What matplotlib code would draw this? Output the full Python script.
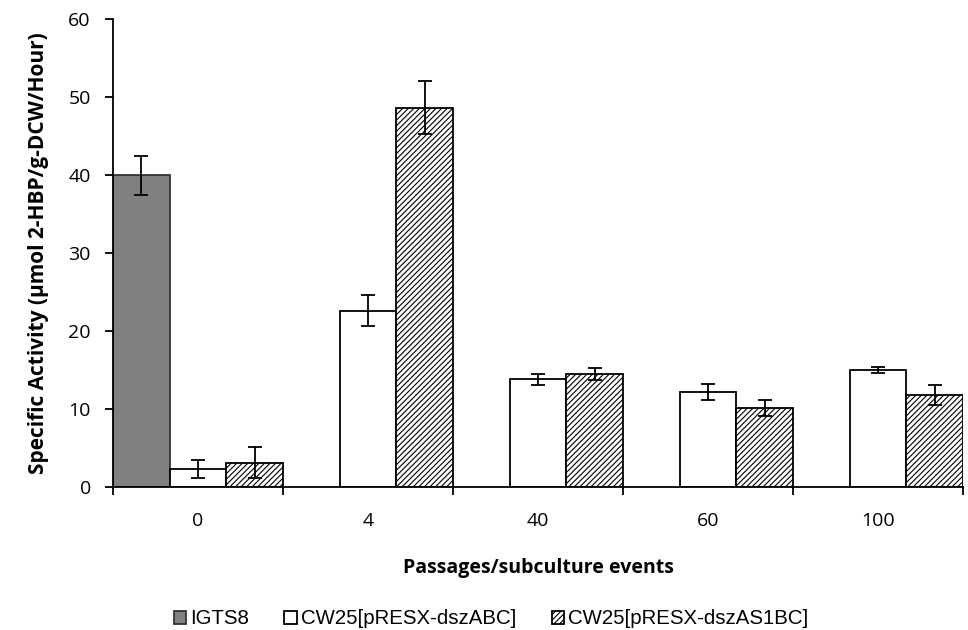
import numpy as np
import matplotlib.pyplot as plt
from matplotlib.ticker import FixedLocator

plt.rcParams["hatch.linewidth"] = 0.8

passages = ["0", "4", "40", "60", "100"]
series_names = ["IGTS8", "CW25[pRESX-dszABC]", "CW25[pRESX-dszAS1BC]"]
igts8 = [40.0, np.nan, np.nan, np.nan, np.nan]
igts8_err = [2.5, 0, 0, 0, 0]
abc = [2.3, 22.6, 13.8, 12.2, 15.0]
abc_err = [1.2, 2.0, 0.7, 1.0, 0.35]
as1bc = [3.1, 48.6, 14.5, 10.1, 11.8]
as1bc_err = [2.0, 3.4, 0.8, 1.0, 1.3]

fig = plt.figure(figsize=(9.68, 6.3), dpi=100)
ax = fig.add_axes([113 / 968, 1 - 487 / 630, 850 / 968, 468 / 630])

x = np.arange(len(passages))
w = 1 / 3
err_kw = dict(ecolor="black", elinewidth=1.3, capsize=5, capthick=1.3)

ax.bar(x - w, igts8, w, yerr=igts8_err, color="#7f8180", edgecolor="#333333",
       linewidth=1.3, label=series_names[0], error_kw=err_kw)
ax.bar(x, abc, w, yerr=abc_err, color="white", edgecolor="black",
       linewidth=1.3, label=series_names[1], error_kw=err_kw)
ax.bar(x + w, as1bc, w, yerr=as1bc_err, color="white", edgecolor="black",
       hatch="//////", linewidth=1.3, label=series_names[2], error_kw=err_kw)

ax.set_xlim(-0.5, len(passages) - 0.5)
ax.set_ylim(0, 60)
ax.set_yticks(range(0, 61, 10))
ax.set_xticks(x)
ax.set_xticklabels(passages)
ax.xaxis.set_minor_locator(FixedLocator(np.arange(-0.5, len(passages), 1)))
ax.tick_params(axis="x", which="major", length=0, pad=18, labelsize=14)
ax.tick_params(axis="x", which="minor", length=6, width=1.3, direction="out")
ax.tick_params(axis="y", length=6, width=1.3, direction="out", labelsize=14, pad=10)
for lbl in ax.get_xticklabels() + ax.get_yticklabels():
    lbl.set_family("Open Sans")

for s in ["top", "right"]:
    ax.spines[s].set_visible(False)
for s in ["left", "bottom"]:
    ax.spines[s].set_linewidth(1.3)

ax.set_ylabel("Specific Activity (µmol 2-HBP/g-DCW/Hour)", fontsize=15,
              fontweight="bold", family="Open Sans", labelpad=14)
ax.set_xlabel("Passages/subculture events", fontsize=14, fontweight="bold",
              family="Open Sans", labelpad=20)

leg = fig.legend(loc="center", bbox_to_anchor=(491 / 968, 1 - 619 / 630), ncol=3,
                 frameon=False, handlelength=0.6, handleheight=0.6,
                 handletextpad=0.2, columnspacing=1.75,
                 prop={"family": "Liberation Sans", "size": 14.7})

fig.savefig("out.png", dpi=100)
